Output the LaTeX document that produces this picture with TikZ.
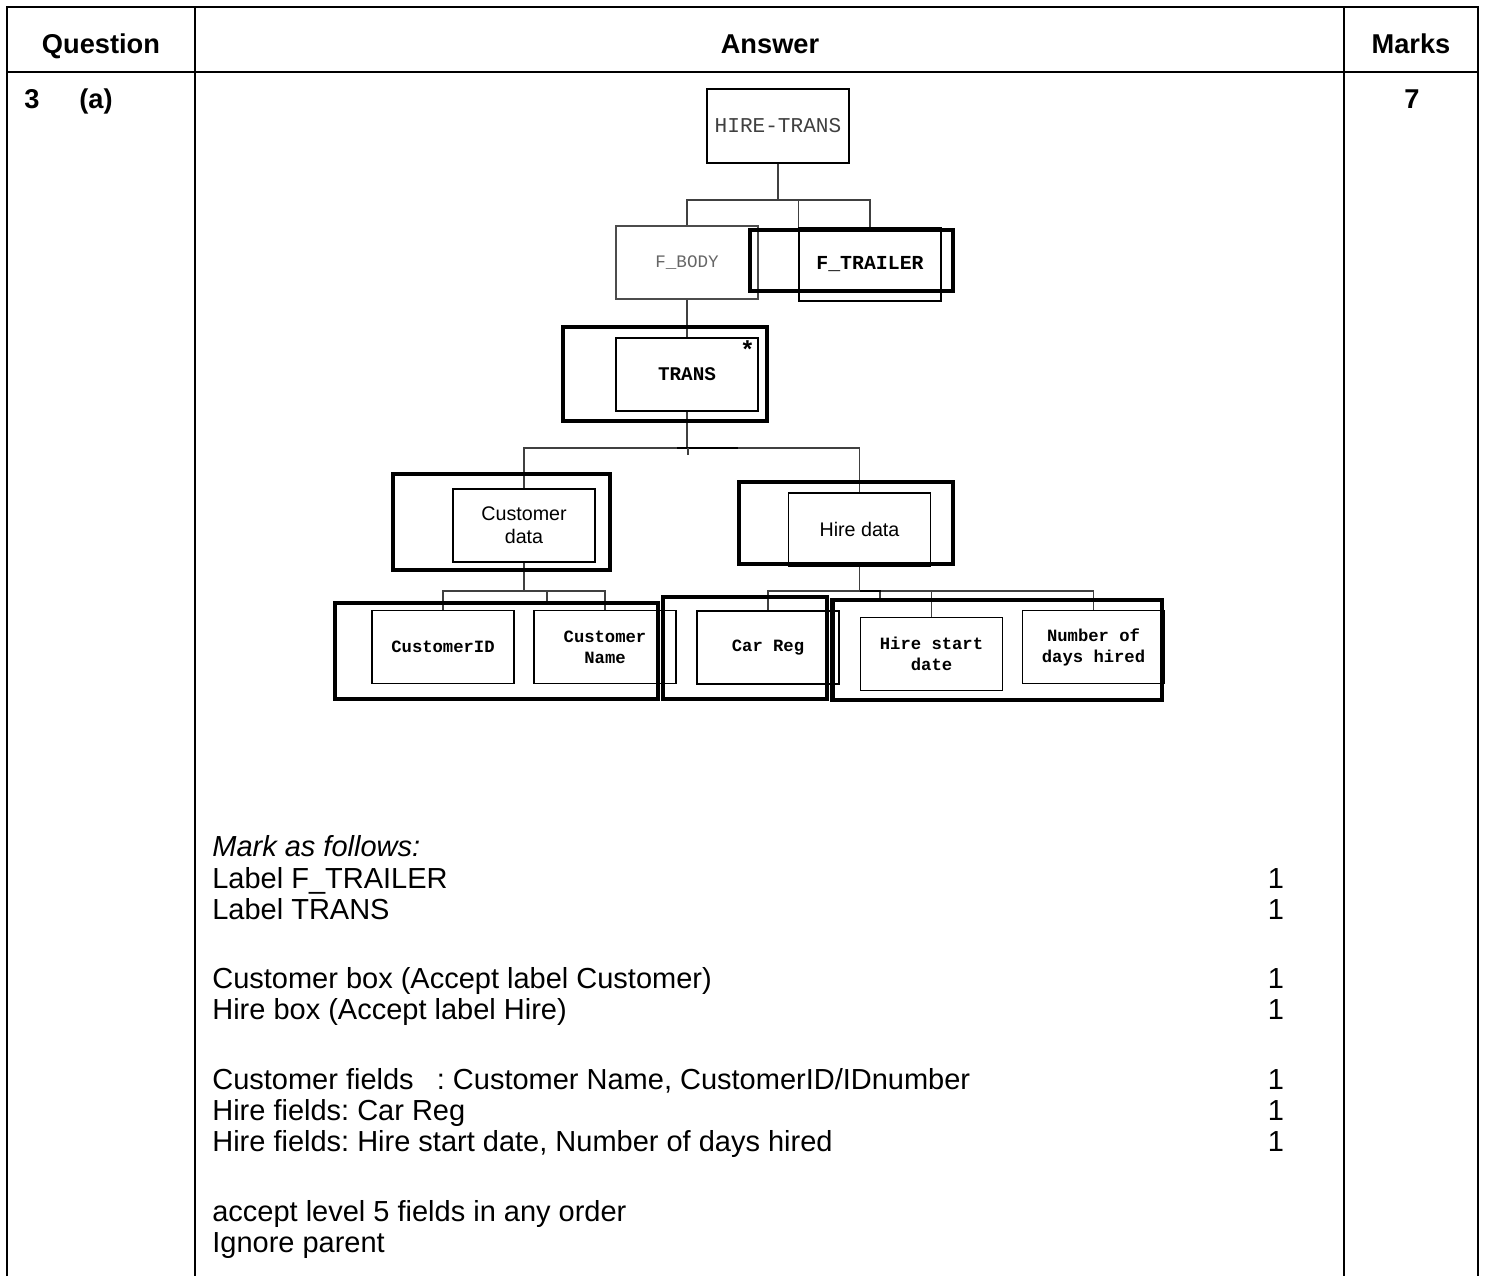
\documentclass[tikz,border=0pt]{standalone}
\usepackage{fontspec}
\setmainfont{Liberation Sans}
\setmonofont{Liberation Mono}
\frenchspacing
\newcommand{\headfont}{\bfseries\fontsize{15.5}{18}\selectfont}
\newcommand{\bodyfont}{\fontsize{16.5}{18}\selectfont}
\newcommand{\fieldfont}{\ttfamily\bfseries\fontsize{9.8}{12}\selectfont}
\newcommand{\datafont}{\fontsize{11.2}{13.2}\selectfont}
\tikzset{
  field/.style={draw, line width=0.8pt, minimum width=2.84cm, minimum height=1.46cm, inner sep=1pt, align=center, font=\fieldfont},
  datafield/.style={field, font=\datafont},
  markbox/.style 2 args={draw, line width=2.8pt, minimum width=#1, minimum height=#2, inner sep=0pt},
  link/.style={draw=black!75, line width=0.6pt},
  rule/.style={line width=1.1pt},
  note/.style={anchor=base west, font=\bodyfont, inner sep=0pt}
}
\begin{document}
\begin{tikzpicture}[x=0.02cm, y=-0.02cm]
	\useasboundingbox (0,0) rectangle (1488,1276);
	% table frame
	\draw[rule] (7,1276) -- (7,7) -- (1478,7) -- (1478,1276);
	\draw[rule] (7,72) -- (1478,72);
	\draw[rule] (195,7) -- (195,1276);
	\draw[rule] (1344,7) -- (1344,1276);
	\node[font=\headfont, anchor=base] (hq) at (101,53) {Question};
	\node[font=\headfont, anchor=base] (ha) at (770,53) {Answer};
	\node[font=\headfont, anchor=base] (hm) at (1411,53) {Marks};
	\node[font=\headfont, anchor=base] (qnum) at (32,108) {3};
	\node[font=\headfont, anchor=base] (qpart) at (96,108) {(a)};
	\node[font=\headfont, anchor=base] (qmarks) at (1412,108) {7};
	% structure chart
	\node[field, font=\ttfamily\fontsize{12}{14}\selectfont, text=black!75, minimum height=1.48cm] (htrans) at (778,126) {HIRE-TRANS};
	\node[field, draw=black!70, font=\ttfamily\fontsize{10}{12}\selectfont, text=black!60] (fbody) at (687,262.5) {F\_BODY};
	\node[field, font=\ttfamily\bfseries\fontsize{11.3}{13}\selectfont] (ftrailer) at (870,264.5) {F\_TRAILER};
	\node[field, font=\ttfamily\bfseries\fontsize{11}{13}\selectfont] (trans) at (687,374.5) {TRANS};
	\node[anchor=north east, inner sep=2pt, font=\ttfamily\bfseries\fontsize{14}{14}\selectfont] (transstar) at (trans.north east) {*};
	\node[datafield] (custdata) at (524,525.5) {Customer\\data};
	\node[datafield] (hiredata) at (859.5,529.5) {Hire data};
	\node[field] (custid) at (443,647) {CustomerID};
	\node[field] (custname) at (605,647) {Customer\\Name};
	\node[field] (carreg) at (768,647.5) {Car Reg};
	\node[field] (hsdate) at (931.5,654) {Hire start\\date};
	\node[field] (ndays) at (1093.5,647) {Number of\\days hired};
	% connectors
	\coordinate (bus1) at (778,200);
	\draw[link] (htrans.south) -- (bus1);
	\draw[link] (fbody.north) |- (bus1) -| (ftrailer.north);
	\draw[link] (ftrailer.north west) -- (ftrailer.north west |- bus1);
	\draw[link] (fbody.south) -- (trans.north);
	\coordinate (bus3) at (687,448);
	\draw[link] (trans.south) -- (bus3);
	\draw[link] (custdata.north) |- (bus3) -| (hiredata.north);
	\draw[line width=1.3pt] (bus3) ++(-10,0) -- ++(61,0);
	\draw[link] (bus3) ++(1,0) -- ++(0,7);
	\coordinate (bus4a) at (524,591);
	\draw[link] (custdata.south) -- (bus4a);
	\draw[link] (custid.north) |- (bus4a) -| (custname.north);
	\draw[link] (bus4a) ++(23,0) -- ++(0,12);
	\coordinate (bus4b) at (859.5,591);
	\draw[link] (hiredata.south) -- (bus4b);
	\draw[link] (carreg.north) |- (bus4b) -| (ndays.north);
	\draw[link] (hsdate.north) -- (hsdate.north |- bus4b);
	\draw[link] (bus4b) ++(20.5,0) -- ++(0,9);
	\draw[line width=1.3pt] (bus4b) -- ++(21,0);
	% marking boxes
	\node[markbox={4.06cm}{1.22cm}] (mftrailer) at (851.5,260.5) {};
	\node[markbox={4.08cm}{1.88cm}] (mtrans) at (665,374) {};
	\node[markbox={4.34cm}{1.92cm}] (mcust) at (501.5,522) {};
	\node[markbox={4.28cm}{1.64cm}] (mhire) at (846,523) {};
	\node[markbox={6.46cm}{1.92cm}] (mcfields) at (496.5,651) {};
	\node[markbox={3.28cm}{2.04cm}] (mcarreg) at (745,648) {};
	\node[markbox={6.6cm}{2.0cm}] (mhfields) at (997,650) {};
	% mark scheme
	\node[note, font=\bodyfont\itshape] (note0) at (212,856) {Mark as follows:};
	\foreach \n/\y/\txt in {1/888/{Label F\_TRAILER}, 2/919/{Label TRANS},
		3/988/{Customer box (Accept label Customer)}, 4/1019/{Hire box (Accept label Hire)},
		5/1089/{Customer fields\hspace{0.8em}: Customer Name, CustomerID/IDnumber},
		6/1120/{Hire fields: Car Reg}, 7/1151/{Hire fields: Hire start date, Number of days hired},
		8/1221/{accept level 5 fields in any order}, 9/1252/{Ignore parent}} {
		\node[note] (note\n) at (212,\y) {\txt};
	}
	\foreach \y in {888,919,988,1019,1089,1120,1151} {
		\node[note, anchor=base] (one\y) at (1276,\y) {1};
	}
\end{tikzpicture}
\end{document}
